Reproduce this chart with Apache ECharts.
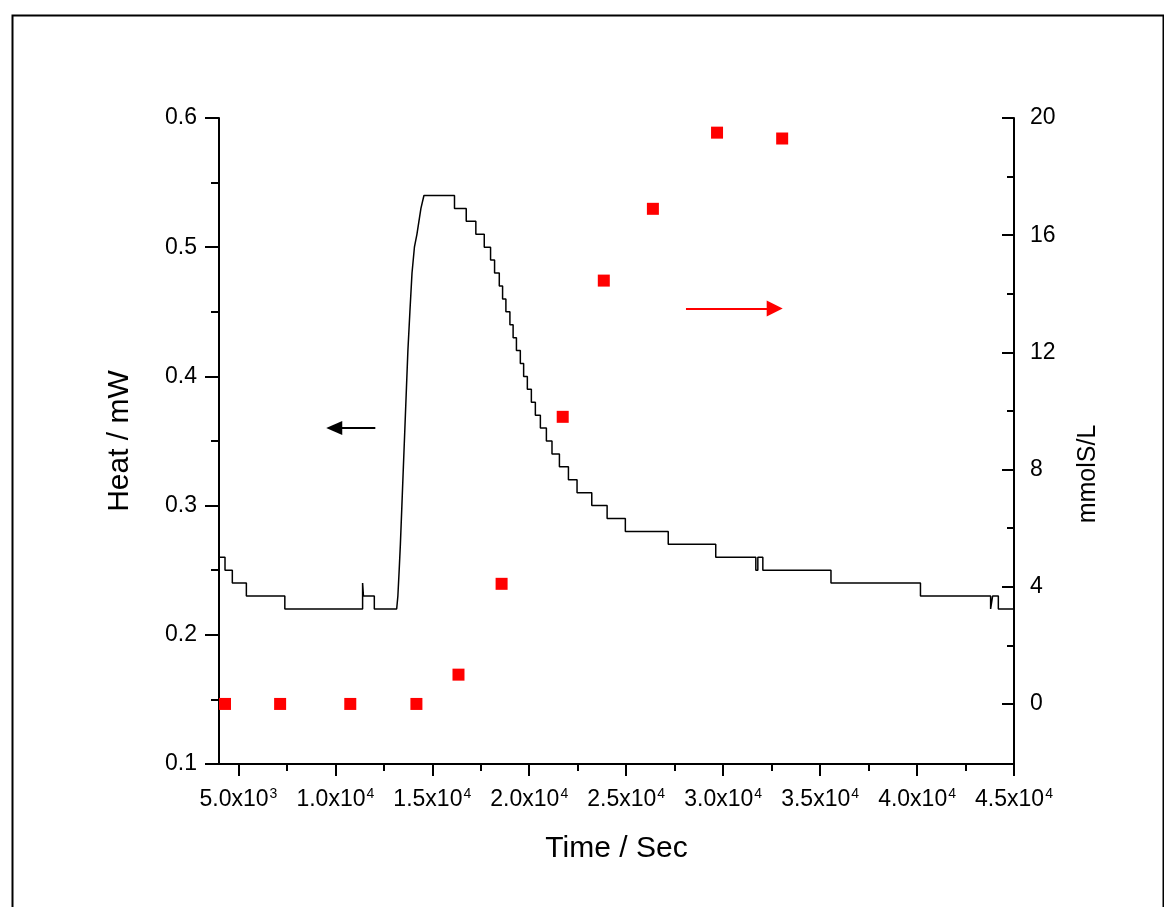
<!DOCTYPE html>
<html>
<head>
<meta charset="utf-8">
<script src="https://cdn.jsdelivr.net/npm/echarts@6/dist/echarts.min.js"></script>
<style>
html,body{margin:0;padding:0;background:#fff;}
#chart{width:1164px;height:907px;}
</style>
</head>
<body>
<div id="chart"></div>
<script>
// Heat trace (level starts): time in s, heat in mW
const heatTime = [4000, 4310, 4687, 5411, 7395, 11406, 11450, 12010, 13163, 13225, 13292, 13354, 13432, 13509, 13587, 13664, 13742, 13845, 13954, 14078, 14207, 14310, 14414, 14569,
  16145, 16750, 17246, 17680, 18005, 18212, 18455, 18625, 18796, 19003, 19168, 19339, 19540, 19711, 19902, 20109, 20315, 20574, 20884, 21173, 21556, 22021, 22465, 23225, 24016, 24956, 27168, 29618,
  31685, 31789, 32047, 35561, 40176, 43794, 43897, 44192, 45000];
const heatValue = [0.26, 0.25, 0.24, 0.23, 0.22, 0.24, 0.23, 0.22, 0.22, 0.23, 0.25, 0.27, 0.30, 0.33, 0.36, 0.39, 0.42, 0.45, 0.48, 0.50, 0.51, 0.52, 0.53, 0.54,
  0.53, 0.52, 0.51, 0.50, 0.49, 0.48, 0.47, 0.46, 0.45, 0.44, 0.43, 0.42, 0.41, 0.40, 0.39, 0.38, 0.37, 0.36, 0.35, 0.34, 0.33, 0.32, 0.31, 0.30, 0.29, 0.28, 0.27, 0.26,
  0.25, 0.26, 0.25, 0.24, 0.23, 0.22, 0.23, 0.22, 0.22];
// Time span of the heating ramp (points joined directly, not held as steps)
const rampTime = [13163, 14569];

// Concentration samples: time in s, mmolS/L
const concTime = [4310, 7152, 10770, 14181, 16351, 18574, 21726, 23845, 26377, 29685, 33044];
const concValue = [0, 0, 0, 0, 1.0, 4.1, 9.8, 14.45, 16.9, 19.5, 19.3];

// Axis ticks
const xMajorTicks = [5000, 10000, 15000, 20000, 25000, 30000, 35000, 40000, 45000];
const xMinorTicks = [7500, 12500, 17500, 22500, 27500, 32500, 37500, 42500];
const xTickLabels = {5000: ['5.0x10', '3'], 10000: ['1.0x10', '4'], 15000: ['1.5x10', '4'], 20000: ['2.0x10', '4'], 25000: ['2.5x10', '4'], 30000: ['3.0x10', '4'], 35000: ['3.5x10', '4'], 40000: ['4.0x10', '4'], 45000: ['4.5x10', '4']};
const rMajorTicks = [0, 4, 8, 12, 16, 20];
const rMinorTicks = [2, 6, 10, 14, 18];

// Arrow annotations (data coordinates)
const leftArrow = {from: [12062, 0.36], to: [9943, 0.36]};
const rightArrow = {from: [28083, 13.5], to: [32657, 13.5]};

const FONT = '"Liberation Sans", Arial, sans-serif';
const black = '#000';

const chart = echarts.init(document.getElementById('chart'), null, {renderer: 'canvas'});

// Build the stepped trace: each level is held until the next time, except on the ramp
const heatData = [];
heatTime.forEach((t, i) => {
  heatData.push([t, heatValue[i]]);
  const next = heatTime[i + 1];
  if (next !== undefined) {
    const onRamp = t >= rampTime[0] && next <= rampTime[1];
    if (!onRamp) heatData.push([next, heatValue[i]]);
  }
});
const concData = concTime.map((t, i) => [t, concValue[i]]);

const option = {
  animation: false,
  backgroundColor: '#fff',
  textStyle: {fontFamily: FONT},
  grid: {left: 219, right: 150, top: 118, bottom: 143, containLabel: false},
  graphic: [{
    type: 'rect', left: 10, top: 13, silent: true,
    shape: {x: 0, y: 0, width: 1151, height: 1000},
    style: {fill: 'none', stroke: black, lineWidth: 2}
  }],
  xAxis: [{
    type: 'value', min: 4000, max: 45000, position: 'bottom',
    name: 'Time / Sec', nameLocation: 'middle', nameGap: 70,
    nameTextStyle: {fontSize: 30, color: black, fontFamily: FONT},
    axisLine: {show: true, onZero: false, lineStyle: {color: black, width: 2}},
    axisTick: {show: true, length: 12, lineStyle: {color: black, width: 2}, customValues: xMajorTicks},
    axisLabel: {
      customValues: xMajorTicks, margin: 23, color: black, fontFamily: FONT,
      formatter: v => { const l = xTickLabels[v]; return l ? '{b|' + l[0] + '}{s|' + l[1] + '}' : ''; },
      rich: {
        b: {fontSize: 23, fontFamily: FONT, color: black, lineHeight: 26},
        s: {fontSize: 14, fontFamily: FONT, color: black, verticalAlign: 'top', lineHeight: 14, padding: [0, 0, 10, 1]}
      }
    },
    splitLine: {show: false}
  }, {
    type: 'value', min: 4000, max: 45000, position: 'bottom',
    axisLine: {show: false, onZero: false},
    axisTick: {show: true, length: 7, lineStyle: {color: black, width: 2}, customValues: xMinorTicks},
    axisLabel: {show: false},
    splitLine: {show: false}
  }],
  yAxis: [{
    type: 'value', min: 0.1, max: 0.6, interval: 0.1, position: 'left',
    name: 'Heat / mW', nameLocation: 'middle', nameGap: 84, nameRotate: 90,
    nameTextStyle: {fontSize: 30, color: black, fontFamily: FONT},
    axisLine: {show: true, onZero: false, lineStyle: {color: black, width: 2}},
    axisTick: {show: true, length: 14, lineStyle: {color: black, width: 2}},
    minorTick: {show: true, splitNumber: 2, length: 8, lineStyle: {color: black, width: 2}},
    axisLabel: {fontSize: 23, color: black, margin: 22, fontFamily: FONT, formatter: v => v.toFixed(1)},
    splitLine: {show: false}, minorSplitLine: {show: false}
  }, {
    type: 'value', min: -2.05, max: 20, position: 'right',
    name: 'mmolS/L', nameLocation: 'middle', nameGap: 62, nameRotate: 90,
    nameTextStyle: {fontSize: 25, color: black, fontFamily: FONT, padding: [0, 66, 0, 0]},
    axisLine: {show: true, onZero: false, lineStyle: {color: black, width: 2}},
    axisTick: {show: true, inside: true, length: 12, lineStyle: {color: black, width: 2}, customValues: rMajorTicks},
    axisLabel: {fontSize: 23, color: black, margin: 16, fontFamily: FONT, customValues: rMajorTicks},
    splitLine: {show: false}
  }, {
    type: 'value', min: -2.05, max: 20, position: 'right',
    axisLine: {show: false, onZero: false},
    axisTick: {show: true, inside: true, length: 7, lineStyle: {color: black, width: 2}, customValues: rMinorTicks},
    axisLabel: {show: false},
    splitLine: {show: false}
  }],
  series: [{
    type: 'line', name: 'Heat', xAxisIndex: 0, yAxisIndex: 0,
    data: heatData, showSymbol: false, symbol: 'none',
    lineStyle: {color: black, width: 1.5}, silent: true, z: 3,
    markLine: {
      silent: true, symbol: ['none', 'triangle'], symbolSize: [14, 16],
      label: {show: false},
      lineStyle: {color: black, width: 2, type: 'solid'},
      data: [[{coord: leftArrow.from}, {coord: leftArrow.to}]]
    }
  }, {
    type: 'scatter', name: 'Conc', xAxisIndex: 0, yAxisIndex: 1,
    data: concData, symbol: 'rect', symbolSize: 12,
    itemStyle: {color: '#ff0000', opacity: 1}, silent: true, z: 4,
    markLine: {
      silent: true, symbol: ['none', 'triangle'], symbolSize: [16, 16],
      label: {show: false},
      lineStyle: {color: '#ff0000', width: 2, type: 'solid'},
      data: [[{coord: rightArrow.from}, {coord: rightArrow.to}]]
    }
  }]
};
chart.setOption(option);
</script>
</body>
</html>
